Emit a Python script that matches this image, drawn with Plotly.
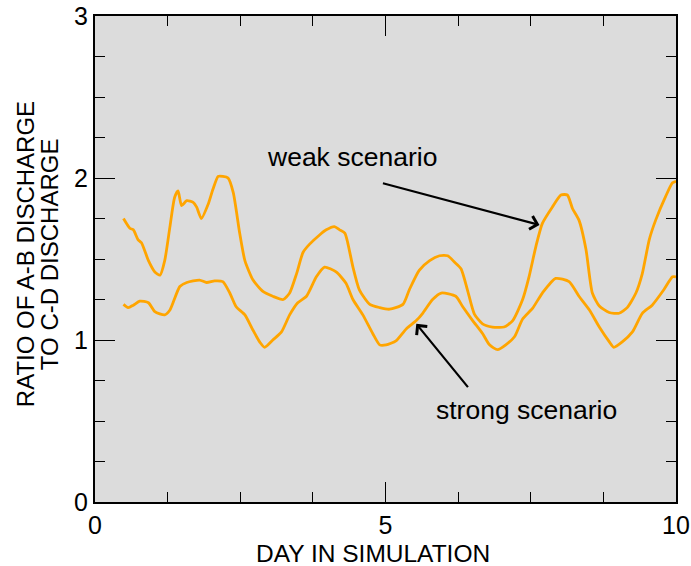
import plotly.graph_objects as go

weak_x = [0.49, 0.60, 0.66, 0.74, 0.80, 0.92, 1.03, 1.12, 1.20, 1.29, 1.37, 1.43, 1.49, 1.58, 1.69, 1.75, 1.83,
          1.95, 2.03, 2.12, 2.20, 2.29, 2.38, 2.49, 2.58, 2.72, 2.89, 3.06, 3.24, 3.35, 3.47, 3.58, 3.69, 3.87,
          3.98, 4.12, 4.21, 4.30, 4.35, 4.44, 4.55, 4.73, 4.90, 5.07, 5.30, 5.41, 5.58, 5.76, 5.93, 6.07, 6.19,
          6.30, 6.41, 6.53, 6.67, 6.84, 7.04, 7.19, 7.36, 7.47, 7.59, 7.70, 7.87, 8.02, 8.13, 8.22, 8.33, 8.45,
          8.56, 8.68, 8.85, 9.02, 9.16, 9.31, 9.42, 9.54, 9.65, 9.82, 9.94, 10.0]
weak_y = [1.75, 1.69, 1.68, 1.62, 1.60, 1.49, 1.42, 1.40, 1.49, 1.70, 1.88, 1.92, 1.83, 1.86, 1.85, 1.82, 1.75,
          1.84, 1.93, 2.01, 2.01, 2.00, 1.91, 1.66, 1.49, 1.37, 1.30, 1.27, 1.25, 1.29, 1.41, 1.54, 1.59, 1.65,
          1.68, 1.70, 1.68, 1.66, 1.60, 1.45, 1.31, 1.22, 1.20, 1.19, 1.22, 1.31, 1.43, 1.49, 1.52, 1.52, 1.48,
          1.44, 1.31, 1.16, 1.10, 1.08, 1.08, 1.12, 1.25, 1.39, 1.58, 1.72, 1.82, 1.895, 1.895, 1.81, 1.74, 1.56,
          1.29, 1.21, 1.17, 1.165, 1.20, 1.29, 1.41, 1.62, 1.74, 1.885, 1.97, 1.98]

strong_x = [0.49, 0.57, 0.66, 0.77, 0.92, 1.03, 1.20, 1.29, 1.46, 1.58, 1.80, 1.92, 2.06, 2.20, 2.32, 2.43, 2.58,
            2.72, 2.84, 2.92, 3.06, 3.21, 3.35, 3.49, 3.64, 3.81, 3.95, 4.15, 4.32, 4.44, 4.61, 4.78, 4.90, 5.01,
            5.18, 5.36, 5.53, 5.64, 5.81, 5.96, 6.21, 6.33, 6.50, 6.67, 6.79, 6.93, 7.07, 7.22, 7.36, 7.53, 7.70,
            7.93, 8.16, 8.33, 8.51, 8.68, 8.85, 8.93, 9.08, 9.25, 9.42, 9.59, 9.79, 9.94, 10.0]
strong_y = [1.22, 1.20, 1.215, 1.24, 1.23, 1.175, 1.155, 1.185, 1.33, 1.355, 1.37, 1.355, 1.365, 1.36, 1.29, 1.205,
            1.155, 1.06, 0.985, 0.955, 1.00, 1.05, 1.155, 1.23, 1.27, 1.39, 1.45, 1.42, 1.35, 1.25, 1.155, 1.04,
            0.97, 0.97, 0.995, 1.07, 1.12, 1.165, 1.25, 1.29, 1.27, 1.205, 1.12, 1.04, 0.97, 0.94, 0.97, 1.02,
            1.13, 1.195, 1.29, 1.38, 1.36, 1.27, 1.185, 1.08, 0.99, 0.955, 0.99, 1.05, 1.165, 1.215, 1.31, 1.39, 1.39]

x_tickvals = [0, 5, 10]
y_tickvals = [0, 1, 2, 3]
FONT = "Liberation Sans, Arial, sans-serif"
ORANGE = "#FFA500"

fig = go.Figure()
fig.add_trace(go.Scatter(x=weak_x, y=weak_y, mode="lines",
                         line=dict(color=ORANGE, width=2.8, shape="spline", smoothing=0.6)))
fig.add_trace(go.Scatter(x=strong_x, y=strong_y, mode="lines",
                         line=dict(color=ORANGE, width=2.8, shape="spline", smoothing=0.6)))

axis_common = dict(showline=True, linecolor="black", linewidth=2, mirror="allticks",
                   ticks="inside", ticklen=20, tickwidth=1.3, tickcolor="black",
                   showgrid=False, zeroline=False, automargin=False,
                   tickfont=dict(family=FONT, size=25, color="black"))

fig.update_xaxes(range=[0, 10], tickvals=x_tickvals, ticktext=[str(v) for v in x_tickvals],
                 minor=dict(ticks="inside", ticklen=10, tickwidth=1.3, tickcolor="black", dtick=1.25, tick0=0,
                            showgrid=False),
                 **axis_common)
fig.update_yaxes(range=[0, 3], tickvals=y_tickvals, ticktext=[str(v) for v in y_tickvals],
                 minor=dict(ticks="inside", ticklen=10, tickwidth=1.3, tickcolor="black", dtick=0.25, tick0=0,
                            showgrid=False),
                 **axis_common)

fig.update_layout(
    width=691, height=566,
    margin=dict(l=95, r=15, t=16, b=64),
    plot_bgcolor="#DCDCDC", paper_bgcolor="white",
    showlegend=False,
    font=dict(family=FONT, size=24, color="black"),
)

# axis titles as annotations
fig.add_annotation(text="DAY IN SIMULATION", xref="paper", yref="paper", x=0.478, y=0,
                   yshift=-51, showarrow=False, xanchor="center", yanchor="middle",
                   font=dict(family=FONT, size=24.5, color="black"))
fig.add_annotation(text="RATIO OF A-B DISCHARGE", xref="paper", yref="paper", x=0, y=0.51,
                   xshift=-70, showarrow=False, textangle=-90, xanchor="center", yanchor="middle",
                   font=dict(family=FONT, size=24, color="black"))
fig.add_annotation(text="TO C-D DISCHARGE", xref="paper", yref="paper", x=0, y=0.51,
                   xshift=-46, showarrow=False, textangle=-90, xanchor="center", yanchor="middle",
                   font=dict(family=FONT, size=24, color="black"))

# labels with arrows
fig.add_annotation(text="weak scenario", x=4.43, y=2.13, showarrow=False,
                   font=dict(family=FONT, size=26.5, color="black"))
fig.add_annotation(x=7.65, y=1.71, ax=4.93, ay=1.97, axref="x", ayref="y", xref="x", yref="y",
                   text="", showarrow=True, arrowhead=4, arrowsize=1.2, arrowwidth=2.2, arrowcolor="black")
fig.add_annotation(text="strong scenario", x=7.42, y=0.57, showarrow=False,
                   font=dict(family=FONT, size=26.5, color="black"))
fig.add_annotation(x=5.53, y=1.10, ax=6.44, ay=0.70, axref="x", ayref="y", xref="x", yref="y",
                   text="", showarrow=True, arrowhead=4, arrowsize=1.2, arrowwidth=2.2, arrowcolor="black")

fig.write_html("out.html")
